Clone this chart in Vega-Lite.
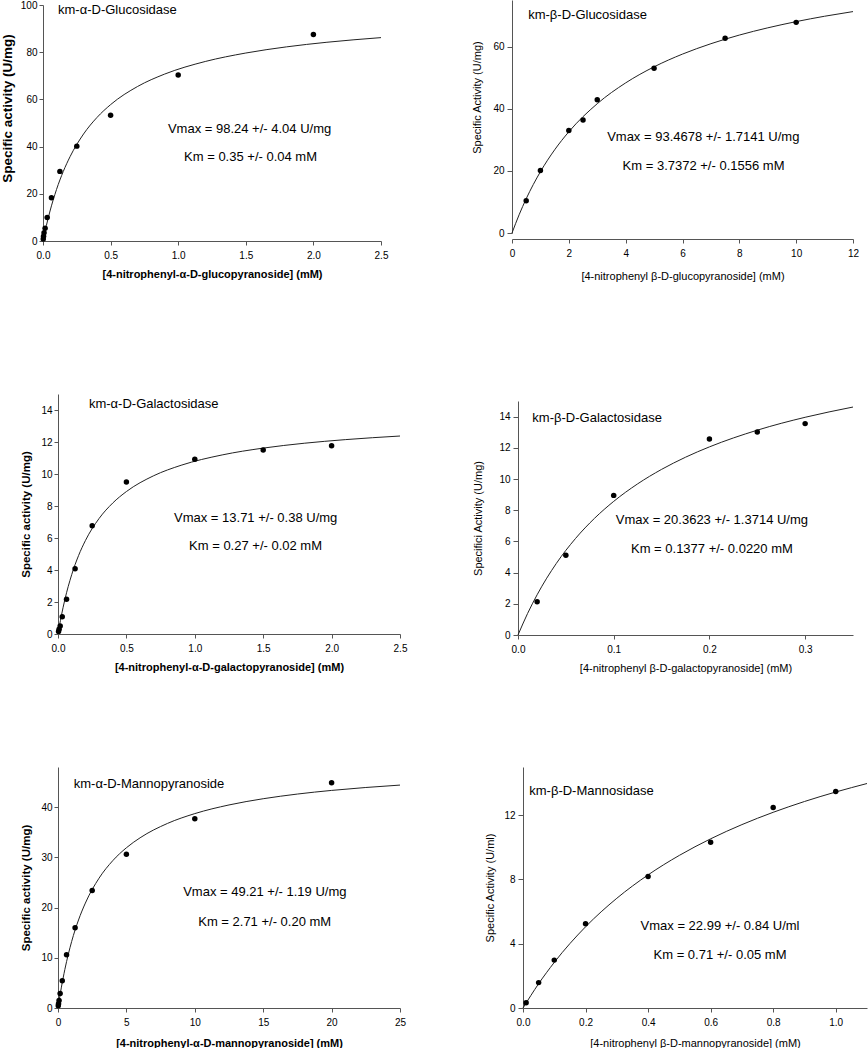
{
  "$schema": "https://vega.github.io/schema/vega-lite/v6.json",
  "padding": {"left": 0, "top": 0, "right": 0, "bottom": 0},
  "background": "white",
  "config": {
    "view": {"stroke": null},
    "font": "Liberation Sans",
    "axis": {"grid": false, "labelFont": "Liberation Sans", "labelFontSize": 10, "labelColor": "#000", "titleFont": "Liberation Sans", "titleColor": "#000", "titleFontSize": 11, "domainColor": "#555", "tickColor": "#555", "tickSize": 4, "labelFlush": false, "labelOverlap": false, "labelPadding": 2},
    "axisX": {"labelPadding": 5, "titlePadding": 8},
    "text": {"font": "Liberation Sans", "fontSize": 13, "color": "#000"}
  },
  "datasets": {
    "p1pts": [{"s":0.002,"v":0.8},{"s":0.0039,"v":2.0},{"s":0.0078,"v":3.5},{"s":0.0156,"v":5.4},{"s":0.031,"v":10.0},{"s":0.0625,"v":18.3},{"s":0.125,"v":29.5},{"s":0.25,"v":40.2},{"s":0.5,"v":53.3},{"s":1.0,"v":70.3},{"s":2.0,"v":87.5}],
    "p1fit": [{"s":0,"v":0},{"s":0.01,"v":2.73},{"s":0.025,"v":6.55},{"s":0.05,"v":12.28},{"s":0.1,"v":21.83},{"s":0.15,"v":29.47},{"s":0.2,"v":35.72},{"s":0.3,"v":45.34},{"s":0.4,"v":52.39},{"s":0.5,"v":57.79},{"s":0.7,"v":65.49},{"s":0.9,"v":70.73},{"s":1.2,"v":76.06},{"s":1.5,"v":79.65},{"s":1.8,"v":82.25},{"s":2.1,"v":84.21},{"s":2.5,"v":86.18}],
    "p2pts": [{"s":0.5,"v":10.4},{"s":1,"v":20.1},{"s":2,"v":33.0},{"s":2.5,"v":36.4},{"s":3,"v":42.9},{"s":5,"v":53.0},{"s":7.5,"v":62.7},{"s":10,"v":67.8}],
    "p2fit": [{"s":0,"v":0},{"s":0.25,"v":5.86},{"s":0.5,"v":11.03},{"s":1,"v":19.73},{"s":1.5,"v":26.77},{"s":2,"v":32.58},{"s":3,"v":41.62},{"s":4,"v":48.32},{"s":5,"v":53.49},{"s":6,"v":57.59},{"s":7,"v":60.93},{"s":8,"v":63.71},{"s":9,"v":66.04},{"s":10,"v":68.04},{"s":11,"v":69.77},{"s":12,"v":71.27}],
    "p3pts": [{"s":0.004,"v":0.15},{"s":0.008,"v":0.3},{"s":0.016,"v":0.5},{"s":0.031,"v":1.08},{"s":0.0625,"v":2.17},{"s":0.125,"v":4.08},{"s":0.25,"v":6.77},{"s":0.5,"v":9.5},{"s":1.0,"v":10.92},{"s":1.5,"v":11.5},{"s":2.0,"v":11.77}],
    "p3fit": [{"s":0,"v":0},{"s":0.01,"v":0.49},{"s":0.025,"v":1.162},{"s":0.05,"v":2.142},{"s":0.1,"v":3.705},{"s":0.15,"v":4.896},{"s":0.2,"v":5.834},{"s":0.3,"v":7.216},{"s":0.4,"v":8.185},{"s":0.5,"v":8.903},{"s":0.7,"v":9.894},{"s":0.9,"v":10.546},{"s":1.2,"v":11.192},{"s":1.5,"v":11.619},{"s":1.8,"v":11.922},{"s":2.1,"v":12.148},{"s":2.5,"v":12.374}],
    "p4pts": [{"s":0.02,"v":2.13},{"s":0.05,"v":5.11},{"s":0.1,"v":8.95},{"s":0.2,"v":12.57},{"s":0.25,"v":13.02},{"s":0.3,"v":13.55}],
    "p4fit": [{"s":0,"v":0},{"s":0.01,"v":1.379},{"s":0.02,"v":2.582},{"s":0.04,"v":4.584},{"s":0.06,"v":6.18},{"s":0.08,"v":7.483},{"s":0.1,"v":8.566},{"s":0.125,"v":9.689},{"s":0.15,"v":10.616},{"s":0.175,"v":11.396},{"s":0.2,"v":12.059},{"s":0.25,"v":13.13},{"s":0.3,"v":13.956},{"s":0.35,"v":14.613}],
    "p5pts": [{"s":0.0195,"v":0.45},{"s":0.039,"v":0.85},{"s":0.078,"v":1.5},{"s":0.156,"v":2.9},{"s":0.3125,"v":5.45},{"s":0.625,"v":10.6},{"s":1.25,"v":16.0},{"s":2.5,"v":23.4},{"s":5,"v":30.6},{"s":10,"v":37.7},{"s":20,"v":44.85}],
    "p5fit": [{"s":0,"v":0},{"s":0.1,"v":1.751},{"s":0.25,"v":4.156},{"s":0.5,"v":7.665},{"s":1,"v":13.264},{"s":1.5,"v":17.533},{"s":2,"v":20.896},{"s":3,"v":25.854},{"s":4,"v":29.335},{"s":5,"v":31.913},{"s":6,"v":33.899},{"s":8,"v":36.758},{"s":10,"v":38.718},{"s":12.5,"v":40.442},{"s":15,"v":41.68},{"s":17.5,"v":42.611},{"s":20,"v":43.338},{"s":22.5,"v":43.92},{"s":25,"v":44.397}],
    "p6pts": [{"s":0.01,"v":0.33},{"s":0.05,"v":1.58},{"s":0.1,"v":2.98},{"s":0.2,"v":5.24},{"s":0.4,"v":8.19},{"s":0.6,"v":10.32},{"s":0.8,"v":12.48},{"s":1.0,"v":13.47}],
    "p6fit": [{"s":0,"v":0},{"s":0.05,"v":1.5125},{"s":0.1,"v":2.838},{"s":0.2,"v":5.053},{"s":0.3,"v":6.829},{"s":0.4,"v":8.285},{"s":0.5,"v":9.5},{"s":0.6,"v":10.53},{"s":0.7,"v":11.414},{"s":0.8,"v":12.18},{"s":0.9,"v":12.852},{"s":1.0,"v":13.444},{"s":1.1,"v":13.972}]
  },
  "vconcat": [
    {
      "vconcat": [
        {
          "hconcat": [
            {
              "width": 323, "height": 236,
              "resolve": {"axis": {"x": "independent", "y": "independent"}},
              "layer": [
                {"data": {"name": "p1fit"}, "mark": {"type": "line", "color": "#222", "strokeWidth": 1, "interpolate": "monotone"},
                 "encoding": {
                   "x": {"field": "s", "type": "quantitative", "scale": {"domain": [0, 2.5], "range": [-15, 323], "nice": false, "zero": false}, "axis": {"title": "[4-nitrophenyl-α-D-glucopyranoside] (mM)", "values": [0, 0.5, 1, 1.5, 2, 2.5], "format": ".1f", "titleFontWeight": "bold"}},
                   "y": {"field": "v", "type": "quantitative", "scale": {"domain": [0, 100], "nice": false}, "axis": {"title": "Specific activity (U/mg)", "values": [0, 20, 40, 60, 80, 100], "offset": 15, "titleFontSize": 13.5, "titleFontWeight": "bold", "titlePadding": 6, "titleY": 103}}}},
                {"data": {"name": "p1pts"}, "mark": {"type": "circle", "color": "#000", "size": 30, "opacity": 1},
                 "encoding": {"x": {"field": "s", "type": "quantitative", "axis": null}, "y": {"field": "v", "type": "quantitative", "axis": null}}},
                {"data": {"values": [{}]}, "mark": {"type": "text", "align": "left", "baseline": "middle", "fontSize": 13}, "encoding": {"x": {"datum": 0.111, "type": "quantitative", "axis": null}, "y": {"datum": 97.9, "type": "quantitative", "axis": null}, "text": {"value": "km-α-D-Glucosidase"}}},
                {"data": {"values": [{}]}, "mark": {"type": "text", "align": "center", "baseline": "middle", "fontSize": 13}, "encoding": {"x": {"datum": 1.528, "type": "quantitative", "axis": null}, "y": {"datum": 47.6, "type": "quantitative", "axis": null}, "text": {"value": "Vmax = 98.24 +/- 4.04 U/mg"}}},
                {"data": {"values": [{}]}, "mark": {"type": "text", "align": "center", "baseline": "middle", "fontSize": 13}, "encoding": {"x": {"datum": 1.535, "type": "quantitative", "axis": null}, "y": {"datum": 35.6, "type": "quantitative", "axis": null}, "text": {"value": "Km = 0.35 +/- 0.04 mM"}}}
              ]
            },
            {
              "width": 341, "height": 228,
              "resolve": {"axis": {"x": "independent", "y": "independent"}},
              "layer": [
                {"data": {"name": "p2fit"}, "mark": {"type": "line", "color": "#222", "strokeWidth": 1, "interpolate": "monotone"},
                 "encoding": {
                   "x": {"field": "s", "type": "quantitative", "scale": {"domain": [0, 12], "nice": false, "zero": false}, "axis": {"title": "[4-nitrophenyl β-D-glucopyranoside] (mM)", "values": [0, 2, 4, 6, 8, 10, 12], "offset": 6, "titleFontWeight": "normal", "titlePadding": 12}},
                   "y": {"field": "v", "type": "quantitative", "scale": {"domain": [0, 75], "range": [228, -5], "nice": false}, "axis": {"title": "Specific Activity (U/mg)", "values": [0, 20, 40, 60], "titleFontWeight": "normal", "tickSize": 5, "labelPadding": 3, "titlePadding": 10, "titleY": 92}}}},
                {"data": {"name": "p2pts"}, "mark": {"type": "circle", "color": "#000", "size": 30, "opacity": 1},
                 "encoding": {"x": {"field": "s", "type": "quantitative", "axis": null}, "y": {"field": "v", "type": "quantitative", "axis": null}}},
                {"data": {"values": [{}]}, "mark": {"type": "text", "align": "left", "baseline": "middle", "fontSize": 13}, "encoding": {"x": {"datum": 0.57, "type": "quantitative", "axis": null}, "y": {"datum": 70.2, "type": "quantitative", "axis": null}, "text": {"value": "km-β-D-Glucosidase"}}},
                {"data": {"values": [{}]}, "mark": {"type": "text", "align": "center", "baseline": "middle", "fontSize": 13}, "encoding": {"x": {"datum": 6.73, "type": "quantitative", "axis": null}, "y": {"datum": 31.05, "type": "quantitative", "axis": null}, "text": {"value": "Vmax = 93.4678 +/- 1.7141 U/mg"}}},
                {"data": {"values": [{}]}, "mark": {"type": "text", "align": "center", "baseline": "middle", "fontSize": 13}, "encoding": {"x": {"datum": 6.74, "type": "quantitative", "axis": null}, "y": {"datum": 21.7, "type": "quantitative", "axis": null}, "text": {"value": "Km = 3.7372 +/- 0.1556 mM"}}}
              ]
            }
          ],
          "spacing": 75
        },
        {
          "hconcat": [
            {
              "width": 342, "height": 240,
              "resolve": {"axis": {"x": "independent", "y": "independent"}},
              "layer": [
                {"data": {"name": "p3fit"}, "mark": {"type": "line", "color": "#222", "strokeWidth": 1, "interpolate": "monotone"},
                 "encoding": {
                   "x": {"field": "s", "type": "quantitative", "scale": {"domain": [0, 2.5], "nice": false, "zero": false}, "axis": {"title": "[4-nitrophenyl-α-D-galactopyranoside] (mM)", "values": [0, 0.5, 1, 1.5, 2, 2.5], "format": ".1f", "titleFontWeight": "bold"}},
                   "y": {"field": "v", "type": "quantitative", "scale": {"domain": [0, 15], "nice": false}, "axis": {"title": "Specific activity (U/mg)", "values": [0, 2, 4, 6, 8, 10, 12, 14], "titleFontSize": 11.5, "titleFontWeight": "bold", "titlePadding": 9}}}},
                {"data": {"name": "p3pts"}, "mark": {"type": "circle", "color": "#000", "size": 30, "opacity": 1},
                 "encoding": {"x": {"field": "s", "type": "quantitative", "axis": null}, "y": {"field": "v", "type": "quantitative", "axis": null}}},
                {"data": {"values": [{}]}, "mark": {"type": "text", "align": "left", "baseline": "middle", "fontSize": 13}, "encoding": {"x": {"datum": 0.226, "type": "quantitative", "axis": null}, "y": {"datum": 14.36, "type": "quantitative", "axis": null}, "text": {"value": "km-α-D-Galactosidase"}}},
                {"data": {"values": [{}]}, "mark": {"type": "text", "align": "center", "baseline": "middle", "fontSize": 13}, "encoding": {"x": {"datum": 1.445, "type": "quantitative", "axis": null}, "y": {"datum": 7.27, "type": "quantitative", "axis": null}, "text": {"value": "Vmax = 13.71 +/- 0.38 U/mg"}}},
                {"data": {"values": [{}]}, "mark": {"type": "text", "align": "center", "baseline": "middle", "fontSize": 13}, "encoding": {"x": {"datum": 1.444, "type": "quantitative", "axis": null}, "y": {"datum": 5.5, "type": "quantitative", "axis": null}, "text": {"value": "Km = 0.27 +/- 0.02 mM"}}}
              ]
            },
            {
              "width": 335, "height": 241,
              "resolve": {"axis": {"x": "independent", "y": "independent"}},
              "layer": [
                {"data": {"name": "p4fit"}, "mark": {"type": "line", "color": "#222", "strokeWidth": 1, "interpolate": "monotone"},
                 "encoding": {
                   "x": {"field": "s", "type": "quantitative", "scale": {"domain": [0, 0.35], "nice": false, "zero": false}, "axis": {"title": "[4-nitrophenyl β-D-galactopyranoside] (mM)", "values": [0, 0.1, 0.2, 0.3], "format": ".1f", "titleFontWeight": "normal"}},
                   "y": {"field": "v", "type": "quantitative", "scale": {"domain": [0, 15], "range": [241, 7], "nice": false}, "axis": {"title": "Specifici Activity (U/mg)", "values": [0, 2, 4, 6, 8, 10, 12, 14], "titleFontWeight": "normal", "tickSize": 5, "labelPadding": 3, "titlePadding": 15}}}},
                {"data": {"name": "p4pts"}, "mark": {"type": "circle", "color": "#000", "size": 30, "opacity": 1},
                 "encoding": {"x": {"field": "s", "type": "quantitative", "axis": null}, "y": {"field": "v", "type": "quantitative", "axis": null}}},
                {"data": {"values": [{}]}, "mark": {"type": "text", "align": "left", "baseline": "middle", "fontSize": 13}, "encoding": {"x": {"datum": 0.015, "type": "quantitative", "axis": null}, "y": {"datum": 13.9, "type": "quantitative", "axis": null}, "text": {"value": "km-β-D-Galactosidase"}}},
                {"data": {"values": [{}]}, "mark": {"type": "text", "align": "center", "baseline": "middle", "fontSize": 13}, "encoding": {"x": {"datum": 0.2026, "type": "quantitative", "axis": null}, "y": {"datum": 7.35, "type": "quantitative", "axis": null}, "text": {"value": "Vmax = 20.3623 +/- 1.3714 U/mg"}}},
                {"data": {"values": [{}]}, "mark": {"type": "text", "align": "center", "baseline": "middle", "fontSize": 13}, "encoding": {"x": {"datum": 0.2026, "type": "quantitative", "axis": null}, "y": {"datum": 5.54, "type": "quantitative", "axis": null}, "text": {"value": "Km = 0.1377 +/- 0.0220 mM"}}}
              ]
            }
          ],
          "spacing": 65
        }
      ],
      "spacing": 113
    },
    {
      "hconcat": [
        {
          "width": 342, "height": 241,
          "resolve": {"axis": {"x": "independent", "y": "independent"}},
          "layer": [
            {"data": {"name": "p5fit"}, "mark": {"type": "line", "color": "#222", "strokeWidth": 1, "interpolate": "monotone"},
             "encoding": {
               "x": {"field": "s", "type": "quantitative", "scale": {"domain": [0, 25], "nice": false, "zero": false}, "axis": {"title": "[4-nitrophenyl-α-D-mannopyranoside] (mM)", "values": [0, 5, 10, 15, 20, 25], "titleFontWeight": "bold", "titlePadding": 10}},
               "y": {"field": "v", "type": "quantitative", "scale": {"domain": [0, 48], "nice": false}, "axis": {"title": "Specific activity (U/mg)", "values": [0, 10, 20, 30, 40], "titleFontSize": 11.5, "titleFontWeight": "bold", "titlePadding": 9}}}},
            {"data": {"name": "p5pts"}, "mark": {"type": "circle", "color": "#000", "size": 30, "opacity": 1},
             "encoding": {"x": {"field": "s", "type": "quantitative", "axis": null}, "y": {"field": "v", "type": "quantitative", "axis": null}}},
            {"data": {"values": [{}]}, "mark": {"type": "text", "align": "left", "baseline": "middle", "fontSize": 13}, "encoding": {"x": {"datum": 1.15, "type": "quantitative", "axis": null}, "y": {"datum": 44.6, "type": "quantitative", "axis": null}, "text": {"value": "km-α-D-Mannopyranoside"}}},
            {"data": {"values": [{}]}, "mark": {"type": "text", "align": "center", "baseline": "middle", "fontSize": 13}, "encoding": {"x": {"datum": 15.12, "type": "quantitative", "axis": null}, "y": {"datum": 23.1, "type": "quantitative", "axis": null}, "text": {"value": "Vmax = 49.21 +/- 1.19 U/mg"}}},
            {"data": {"values": [{}]}, "mark": {"type": "text", "align": "center", "baseline": "middle", "fontSize": 13}, "encoding": {"x": {"datum": 15.11, "type": "quantitative", "axis": null}, "y": {"datum": 17.1, "type": "quantitative", "axis": null}, "text": {"value": "Km = 2.71 +/- 0.20 mM"}}}
          ]
        },
        {
          "width": 344, "height": 241,
          "resolve": {"axis": {"x": "independent", "y": "independent"}},
          "layer": [
            {"data": {"name": "p6fit"}, "mark": {"type": "line", "color": "#222", "strokeWidth": 1, "interpolate": "monotone"},
             "encoding": {
               "x": {"field": "s", "type": "quantitative", "scale": {"domain": [0, 1.1], "nice": false, "zero": false}, "axis": {"title": "[4-nitrophenyl β-D-mannopyranoside] (mM)", "values": [0, 0.2, 0.4, 0.6, 0.8, 1.0], "format": ".1f", "titleFontWeight": "normal", "titlePadding": 10}},
               "y": {"field": "v", "type": "quantitative", "scale": {"domain": [0, 15], "nice": false}, "axis": {"title": "Specific Activity (U/ml)", "values": [0, 4, 8, 12], "titleFontWeight": "normal", "tickSize": 5, "labelPadding": 3, "titlePadding": 8}}}},
            {"data": {"name": "p6pts"}, "mark": {"type": "circle", "color": "#000", "size": 30, "opacity": 1},
             "encoding": {"x": {"field": "s", "type": "quantitative", "axis": null}, "y": {"field": "v", "type": "quantitative", "axis": null}}},
            {"data": {"values": [{}]}, "mark": {"type": "text", "align": "left", "baseline": "middle", "fontSize": 13}, "encoding": {"x": {"datum": 0.02, "type": "quantitative", "axis": null}, "y": {"datum": 13.53, "type": "quantitative", "axis": null}, "text": {"value": "km-β-D-Mannosidase"}}},
            {"data": {"values": [{}]}, "mark": {"type": "text", "align": "center", "baseline": "middle", "fontSize": 13}, "encoding": {"x": {"datum": 0.63, "type": "quantitative", "axis": null}, "y": {"datum": 5.12, "type": "quantitative", "axis": null}, "text": {"value": "Vmax = 22.99 +/- 0.84 U/ml"}}},
            {"data": {"values": [{}]}, "mark": {"type": "text", "align": "center", "baseline": "middle", "fontSize": 13}, "encoding": {"x": {"datum": 0.63, "type": "quantitative", "axis": null}, "y": {"datum": 3.31, "type": "quantitative", "axis": null}, "text": {"value": "Km = 0.71 +/- 0.05 mM"}}}
          ]
        }
      ],
      "spacing": 78
    }
  ],
  "spacing": 94
}
